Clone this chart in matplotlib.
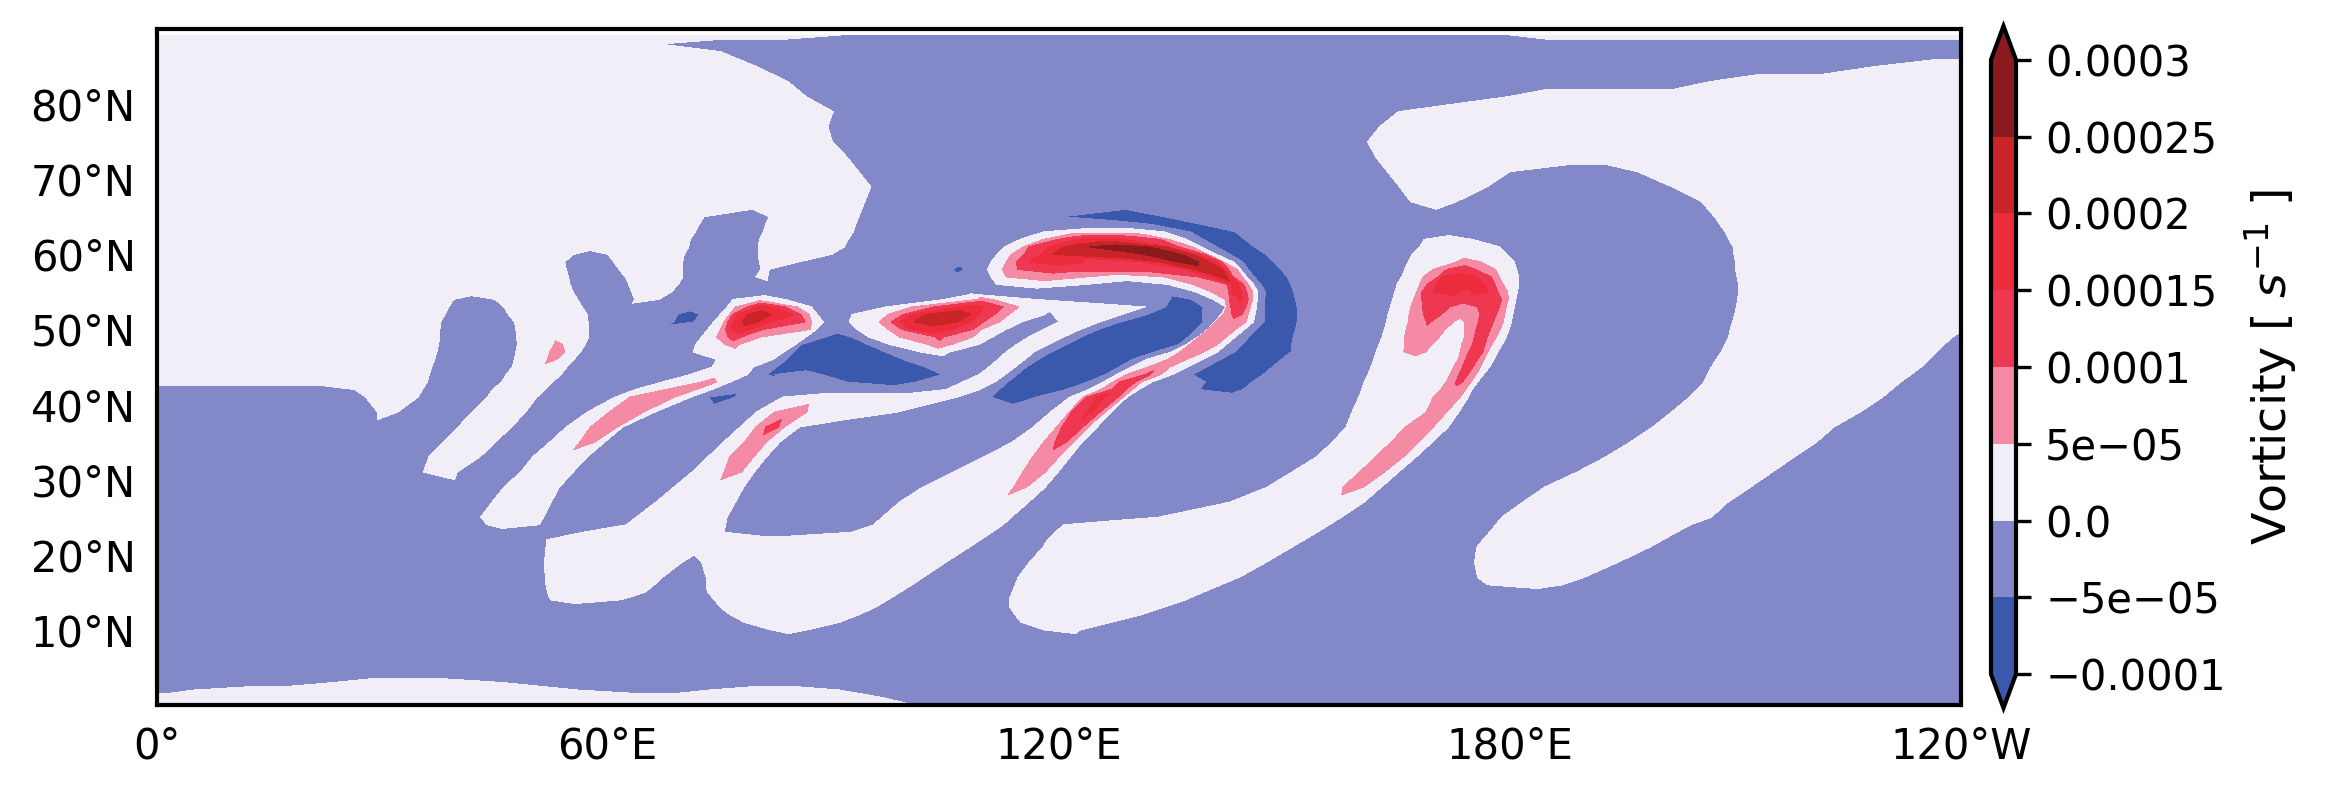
import numpy as np
import matplotlib.pyplot as plt
from matplotlib.tri import Triangulation

# niveis e cores da barra
levels = [-0.0001, -5e-05, 0.0, 5e-05, 0.0001, 0.00015, 0.0002, 0.00025, 0.0003]
colors = ['#3A58AC', '#3A58AC', '#8388C8', '#F1EEF8', '#F48AA4', '#EE3750',
          '#EC2C3A', '#C92428', '#8B1A1E', '#8B1A1E']
band_value = {'B': -7.5e-05, 'a': -2.5e-05, 'w': 2.5e-05, 'p': 7.5e-05,
              'r': 12.5e-05, 's': 17.5e-05, 't': 22.5e-05, 'u': 27.5e-05}

lon_ticks = [0, 60, 120, 180, 240]
lon_labels = ['0°', '60°E', '120°E', '180°E', '120°W']
lat_ticks = [10, 20, 30, 40, 50, 60, 70, 80]
lat_labels = ['10°N', '20°N', '30°N', '40°N', '50°N', '60°N', '70°N', '80°N']

# leitura da figura: em cada latitude, longitude onde cada faixa termina
runs = {
    89.2: "91w 180a 240w",
    88: "67w 240a",
    87: "75w 240a",
    85: "79.8w 228.5a 240w",
    83: "84w 206.6a 240w",
    81: "86.4w 179.8a 240w",
    79: "90w 165.2a 240w",
    77: "89.3w 162.7a 240w",
    75: "89.9w 161.1a 240w",
    73: "91.8w 162.1a 240w",
    71: "93.4w 163.7a 180w 197a 240w",
    69: "95w 165.3a 177w 201.5a 240w",
    67: "94.2w 166.8a 172.9w 205.5a 240w",
    65: "72.8w 81.5a 93.4w 120.5a 134B 207.2a 240w",
    64: "72.2w 81a 93w 132.2a 138.9B 207.9a 240w",
    63: "71.7w 80.7a 92.7w 118a 134w 137.5a 143.5B 208.6a 240w",
    62: "71w 80.2a 92w 114.9a 118w 119.9p 122.5r 129s 133.5r 134.6p 137w 139.2a 144.7B 168.6a 175w 209.1a 240w",
    61: "70.8w 80a 91.5w 112.8a 115.3w 116p 118.8r 120.6s 124t 132u 134.2t 134.6s 136r 137.8p 139w 141a 146B 168a 178.6w 209.7a 240w",
    60: "55.5w 60a 70.2w 80a 89.8w 111.8a 113.7w 115.4p 117.6r 119.1s 131.3t 136.3u 137.9t 138.3s 139.4r 139.8p 141w 142.8a 147.5B 167a 179.6w 209.8a 240w",
    59: "54.3w 60.8a 70w 80.2a 85.5w 111a 113w 114.4p 116r 123.5s 131r 133.4s 135.7t 138.6u 140t 141s 141.7r 141.9p 143.2w 144.5a 148.6B 166.5a 173w 176p 180.6w 210a 240w",
    58: "54.5w 61.5a 70w 80.4a 81.5w 106a 107.5B 110.5a 112.5w 114.5p 137r 138s 141.8t 142.1s 142.6r 143.7p 144.2w 145.2a 149.5B 166a 169.8w 171.6p 175.4r 178.1p 180.9w 210a 240w",
    57: "54.8w 62.3a 70w 79.7a 81.3w 111a 113w 123.8p 134w 138.5p 140r 141.4s 142.4t 143s 143.2r 144.4p 145w 146a 150.4B 165.6a 168.5w 170.5p 171r 175.5s 177.5r 178.6p 181.2w 210.2a 240w",
    56: "55w 62.8a 69.4w 111.7a 123.8w 134.5a 137.8w 142.4p 143r 143.9s 144.6r 145.2p 145.9w 146.9a 150.9B 165a 168w 169p 170.3r 176.8s 178r 179.1p 181.2w 210.4a 240w",
    55: "55.4w 63.2a 68.5w 138.2a 140.3w 142.6p 143r 144.3s 145r 145.8p 146.5w 147.5a 151.2B 164.7a 167.6w 168.3p 169.8r 173.5s 175r 177.1s 178.4r 179.7p 181w 210.4a 240w",
    54: "39.5w 45a 56w 63.6a 66.8w 76.7a 83.6w 104.8a 109.2w 111.2p 116.9w 134.8a 137.7B 140.5a 142.1w 142.7p 143.9r 144.4s 145.2r 145.8p 146.4w 147.4a 151.5B 164.4a 167.2w 168.3p 178.9r 179.8p 180.8w 210.3a 240w",
    53: "38.9w 46.2a 56.6w 75.9a 77w 78.6p 79.9r 81.7s 83.7r 85.2p 87.1w 97a 100.5w 103.4p 106.5r 110s 112.6r 114.7p 131.5w 134.2a 139.2B 142.2a 142.3w 142.9p 144.9r 145.5p 146.3w 147.4a 151.7B 164.1a 166.8w 168.4p 172r 175.7p 178.6r 179.5p 180.6w 210.1a 240w",
    52: "38.4w 46.8a 57.3w 69.3a 72.2B 75a 76.2w 76.6p 77.3r 78.7s 81.8t 84.8s 85.7r 86.8p 87.9w 92.5a 97.3w 99.3p 100.4r 102.3s 108.3t 109.4s 111.5r 113.4p 118.2w 119.2a 128.5w 131.8a 139.1B 141.6a 141.9w 143p 144.4r 145.2p 146.1w 147.4a 151.8B 163.8a 166.6w 168.5p 170.9r 176p 178.2r 179.3p 180.4w 209.9a 240w",
    51: "37.8w 47.6a 57.4w 68.8a 71.5B 74.1a 75.5w 76p 76.8r 77.9s 80t 81.8s 86.3r 87.1p 88.7w 92.1a 96.1w 97.7p 98.9r 100.7s 106.6t 108.5s 110r 112.1p 115.1w 120a 125.4w 128.3a 139.2B 140.7a 140.9w 144.9p 145.9w 147.3a 151.7B 163.6a 166.5w 168.9p 169.5r 172.5p 174w 175.8p 177.8r 179.1p 180.2w 209.6a 240w",
    50: "37.7w 47.8a 57.5w 73.3a 75w 75.7p 76.3r 79s 80.7r 87p 87.8w 93.2a 97.3w 99.1p 100.3r 105.7s 108.6r 109.7p 113w 118a 122.9w 125.3a 138.2B 139.8a 139.9w 143.5p 144.7w 146.2a 151.5B 163.3a 166.2w 171.4p 174w 175.5p 177.4r 178.7p 179.9w 209.3a 240w",
    49: "37.7w 47.9a 57.5w 72.5a 74.5w 76p 77.8r 80.4p 86.4w 89a 92.4B 94.7a 98.8w 103.6p 104.7r 108.6p 111.2w 116a 120.7w 123a 137.2B 138.5a 138.6w 142.3p 143.5w 145.3a 151.2B 163a 166w 170.6p 174w 175.3p 177r 178.2p 179.5w 209.1a 238.9w 240a",
    48: "37.5w 48a 52.9w 54p 57w 71.7a 75.6w 77.5p 85w 85.8a 94.6B 97.5a 102.6w 105.8p 109.4w 114.4a 118.7w 121a 136B 137a 137.4w 141.1p 142.3w 144.4a 151B 162.6a 166w 169.6p 173.6w 175p 176.7r 177.6p 179w 208.6a 237.8w 240a",
    47: "37.3w 47.8a 52.3w 54.3p 56.4w 71.4a 83.4w 84.8a 96.9B 101.6a 105.5w 113a 116.7w 119a 132.7B 135a 136.1w 139.3p 141.1w 143.4a 150.9B 162.2a 165.9w 168.8p 173.4w 174.5p 176.4r 177.1p 178.4w 208.1a 236.8w 240a",
    46: "37w 47.6a 52w 53.2p 55.5w 74.5a 82w 83.8a 99.3B 111.9a 115.5w 117.3a 129.8B 131.6a 134.5w 137p 139.1w 141.5a 149.6B 161.9a 173.1w 174.1p 175.7r 176.6p 177.9w 207.4a 235.8w 240a",
    45: "36.6w 47.3a 54.6w 73.9a 79.4w 82.5a 102.2B 110.7a 114.2w 115.7a 128B 129.6a 131.9w 134.8p 137.2w 139.7a 148.4B 161.5a 172.5w 173.7p 175.1r 176.1p 177.3w 206.8a 234.7w 240a",
    44: "36.3w 46.5a 53.8w 71a 78.6w 81.2a 82.2B 88.5a 104.5B 109.4a 112.9w 114.5a 126.2B 127.7a 129w 131.5p 132.2r 133.6p 135.1w 137.8a 147.2B 161.1a 172w 173.2p 174.4r 175.5p 176.5w 206.3a 233.4w 240a",
    43: "36w 45.9a 52.7w 67.2a 72.5w 74.5p 76.3w 91.8a 101B 107.2a 111.5w 113.2a 123.8B 125.9a 127.2w 128p 130.2r 131p 132.4w 139.5a 145.7B 160.6a 171.5w 172.8p 173.7r 174.8p 175.7w 205.8a 232w 240a",
    42: "26.3a 35.4w 44.7a 51.7w 63.7a 67.7w 71.8p 73.9w 105a 109.5w 112.1a 121B 124a 125.6w 127p 128.9r 129.8p 130.7w 138.7a 144.5B 160.3a 170.8w 174.1p 175w 204.9a 230.8w 240a",
    41: "27.8a 34.8w 44a 50.6w 61a 63w 68.9p 71.1w 73.5a 77B 83.3a 106.5w 111a 117B 121.5a 123.2w 123.7p 125r 126s 127.9r 128.6p 129.1w 159.9a 169.8w 173.4p 174.5w 203.9a 229.6w 240a",
    39: "29.4a 32.1w 42a 49.1w 57.3a 60.2w 64.8p 66.3w 79.8a 82.2w 86.5p 98.6w 118.9a 121.4w 121.7p 123.8r 124.5s 125.5r 126.2p 127w 159a 168.9w 171.6p 173.2w 201.5a 226.6w 240a",
    37: "40.1a 47.2w 54.5a 57.7w 61.3p 62w 77.6a 79.7w 81p 82.7r 83.5p 85.5w 116.6a 119.7w 120.4p 123.2r 123.9p 125.1w 158.2a 166.1w 169.8p 171.8w 199a 223.1w 240a",
    35: "38.2a 45.1w 52.3a 56.3w 58.3p 59.6w 75.4a 78.2w 81.1p 82.9w 113.8a 118w 119.5p 121r 121.9p 123.1w 156.4a 164.2w 167.9p 169.7w 196a 220.8w 240a",
    33: "36.2a 43w 50a 57.3w 73.3a 76.2w 79.4p 81.1w 110a 116.5w 120p 121.5w 154.2a 162.1w 165.8p 167.5w 192.7a 217.8w 240a",
    31: "35.5a 40w 48.4a 55.4w 71.2a 75.5w 77.8p 79.5w 105.9a 115.2w 118.2p 119.9w 151a 160w 163.3p 165.2w 188.9a 214.9w 240a",
    29: "46.2a 53.6w 68.8a 78.1w 101.9a 114w 115.7p 118.2w 147.7a 157.8w 160.5p 162.9w 184.6a 212w 240a",
    27: "44.6a 52.5w 66.4a 77w 98.8a 116w 142.7a 160.6w 181.7a 209w 240a",
    25: "43.1a 51.5w 63.8a 75.9w 96.5a 113.7w 133.2a 157.6w 178.9a 206.8w 240a",
    24: "44a 50.9w 62.5a 75.7w 95.4a 112.6w 120.7a 156w 178.1a 204.1w 240a",
    23: "56.7a 75.5w 92.4a 111.1w 119.5a 154.4w 177.3a 202.2w 240a",
    22: "51.9a 109.6w 118.5a 152.7w 176.4a 200.4w 240a",
    21: "51.8a 108.1w 117.9a 151w 175.6a 198.6w 240a",
    19: "51.6a 69.9w 72.5a 105w 116.1a 147.6w 175.3a 194.4w 240a",
    17: "51.7a 67.3w 73.1a 102w 114.6a 144w 175.7a 189.9w 240a",
    16: "51.8a 66.2w 73.1a 100.5w 114.2a 141.6w 177a 187w 240a",
    15: "52a 65w 73.3a 98.9w 113.8a 139.2w 240a",
    14: "52.4a 61.8w 74.2a 97.3w 113.4a 136.9w 240a",
    13: "75a 95.6w 113.5a 133.9w 240a",
    12: "76.3a 93.4w 114.2a 130.9w 240a",
    11: "78.2a 90.8w 115a 127w 240a",
    10: "81.7a 86.6w 118a 122.9w 240a",
    9: "240a",
    7: "240a",
    4: "240a",
    3: "23.6a 46w 240a",
    2: "5a 56w 73.5a 90.8w 240a",
    1: "96.6w 240a",
    0: "100.7w 240a",
}

# transforma as faixas em pontos (lon, lat, valor) fila por fila
px, py, pz, ps = [], [], [], []
row_ids = []
for lat in sorted(runs, reverse=True):
    tokens = runs[lat].split()
    ids = []

    def add(x, z, s):
        ids.append(len(px))
        px.append(x)
        py.append(lat)
        pz.append(z)
        ps.append(s)

    start = 0.0
    add(start, band_value[tokens[0][-1]], 0)
    for i, tok in enumerate(tokens):
        end = float(tok[:-1])
        val = band_value[tok[-1]]
        n = max(1, int((end - start) / 8))
        for k in range(n):
            add(start + (k + 0.5) * (end - start) / n, val, 0)
        if i + 1 < len(tokens):
            nxt = band_value[tokens[i + 1][-1]]
            add(end, (val + nxt) / 2, np.sign(nxt - val))
        else:
            add(end, val, 0)
        start = end
    row_ids.append(ids)


# custo de ligar dois pontos de filas vizinhas
def link_cost(p, q):
    dx = abs(px[p] - px[q])
    if pz[p] == pz[q] and ps[p] == ps[q]:
        if ps[p] == 0:
            return dx * dx / 20
        return min(dx * dx / 5, 30 + 1.6 * dx)
    c = 20 + 2 * abs(pz[p] - pz[q]) / 5e-05 + dx * dx / 20
    if ps[p] != ps[q]:
        c += 5
    return c


# liga duas filas vizinhas casando pontos de mesmo valor
def stitch(a, b):
    n, m = len(a), len(b)
    d = np.full((n, m), np.inf)
    for i in range(n):
        for j in range(m):
            c = link_cost(a[i], b[j])
            if i == 0 and j == 0:
                d[i, j] = c
            else:
                up = d[i - 1, j] if i > 0 else np.inf
                left = d[i, j - 1] if j > 0 else np.inf
                d[i, j] = c + min(up, left)
    tris = []
    i, j = n - 1, m - 1
    while i > 0 or j > 0:
        up = d[i - 1, j] if i > 0 else np.inf
        left = d[i, j - 1] if j > 0 else np.inf
        if up <= left:
            tris.append([a[i - 1], a[i], b[j]])
            i -= 1
        else:
            tris.append([a[i], b[j - 1], b[j]])
            j -= 1
    return tris


triangles = []
for k in range(len(row_ids) - 1):
    triangles += stitch(row_ids[k], row_ids[k + 1])
tri = Triangulation(px, py, triangles)

fig = plt.figure(figsize=(2332 / 300, 799 / 300), dpi=300)
ax = fig.add_axes([156.5 / 2332, 1 - 705 / 799, (1961 - 156.5) / 2332, (705 - 29) / 799])

cf = ax.tricontourf(tri, pz, levels=levels, colors=colors, extend='both')
ax.set_xlim(0, 240)
ax.set_ylim(0, 90)
ax.set_xticks(lon_ticks)
ax.set_xticklabels(lon_labels)
ax.set_yticks(lat_ticks)
ax.set_yticklabels(lat_labels)
ax.tick_params(length=0, labelsize=10, pad=5)
for s in ax.spines.values():
    s.set_linewidth(1.0)

cax = fig.add_axes([1991 / 2332, 1 - 708 / 799, 25 / 2332, (708 - 26) / 799])
cbar = fig.colorbar(cf, cax=cax, ticks=levels, extend='both', extendfrac=0.055)
cbar.set_ticklabels([str(v).replace('-', '\u2212') for v in levels])
cbar.ax.tick_params(labelsize=10, width=0.8, length=3.5)
cbar.outline.set_linewidth(1.0)
cbar.set_label('Vorticity [ $s^{-1}$ ]', fontsize=11.4, labelpad=4)

fig.savefig('out.png', dpi=300)
